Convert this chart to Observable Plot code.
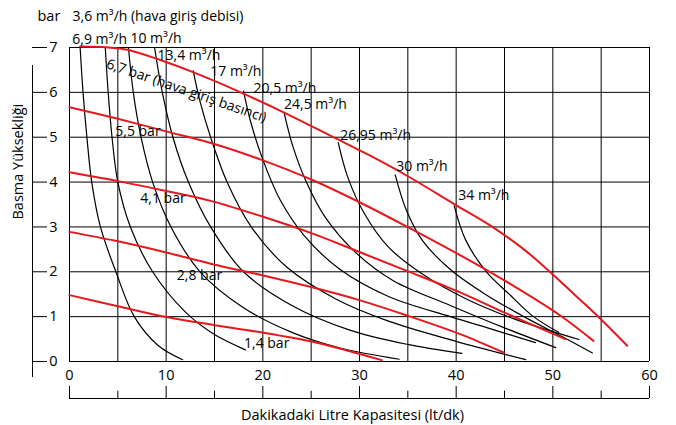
<!DOCTYPE html>
<html><head><meta charset="utf-8">
<script src="https://cdn.jsdelivr.net/npm/d3@7"></script>
<script src="https://cdn.jsdelivr.net/npm/@observablehq/plot@0.6"></script>
<style>
html,body{margin:0;padding:0;background:#fff;}
#chart svg{display:block;}
</style>
</head><body><div id="chart"></div>
<script>
// ---- axes ----
const xTicks = [0, 10, 20, 30, 40, 50, 60];
const xMinorTicks = [5, 15, 25, 35, 45, 55];
const xGrid = [0, 5, 10, 15, 20, 25, 30, 35, 40, 45, 50, 55, 60];
const yTicks = [0, 1, 2, 3, 4, 5, 6, 7];
const xTitle = "Dakikadaki Litre Kapasitesi (lt/dk)";
const yTitle = "Basma Yüksekliği";
const yUnit = "bar";

// ---- air inlet pressure curves (red) ----
const pressureNames = ["6,7 bar (hava giriş basıncı)", "5,5 bar", "4,1 bar", "2,8 bar", "1,4 bar"];
const p67 = [[1.1,7.02],[4,7.0],[6,6.95],[9.4,6.72],[12.9,6.44],[17.3,6.04],[22.2,5.55],[27.3,5.0],[31,4.6],[34.6,4.18],[39.8,3.51],[43.9,2.98],[47,2.5],[49.8,1.98],[52.2,1.5],[54.6,1.02],[57.7,0.35]];
const p55 = [[0,5.67],[5,5.41],[10,5.13],[14.8,4.86],[19.8,4.5],[25.3,4.03],[30,3.55],[34.6,3.04],[40.4,2.37],[45.5,1.74],[50.8,1.02],[54.2,0.46]];
const p41 = [[0,4.22],[5.3,4.01],[10,3.8],[14.8,3.57],[20.1,3.22],[25.3,2.84],[30,2.44],[34.9,2.02],[40.4,1.54],[45.3,1.06],[51.3,0.5]];
const p28 = [[0,2.89],[4.76,2.69],[10,2.43],[14.8,2.17],[19.8,1.93],[25,1.66],[29.8,1.38],[35,1.02],[40.4,0.61],[44.9,0.2]];
const p14 = [[0,1.48],[5,1.23],[10,0.99],[15,0.81],[19.8,0.65],[25.6,0.42],[29,0.23],[32.3,0.03]];

// ---- air consumption curves (black) ----
const airNames = ["3,6 m³/h (hava giriş debisi)", "6,9 m³/h", "10 m³/h", "13,4 m³/h", "17 m³/h", "20,5 m³/h", "24,5 m³/h", "26,95 m³/h", "30 m³/h", "34 m³/h"];
const a36 = [[1.1,7],[1.4,6],[1.8,5],[2.3,4],[3.2,3],[4.8,2],[6.7,1],[9.2,0.35],[11.7,0.04]];
const a69 = [[3.7,7],[4.0,6],[4.4,5],[5.0,4],[6.3,3],[8.6,2],[12,1.1],[15,0.6],[18.2,0.26]];
const a10 = [[6.1,7],[6.6,6],[7.4,5],[8.6,4],[10.5,3],[13.5,2],[18,1.2],[23,0.65],[28,0.3],[34.1,0.05]];
const a134 = [[8.8,7],[9.6,6],[10.7,5],[12.3,4],[14.6,3],[18,2],[23,1.25],[29,0.7],[35,0.38],[40.6,0.18]];
const a17 = [[12.8,6.48],[13.5,5.8],[14.6,5],[16.3,4],[18.8,3],[22.5,2.1],[27.5,1.4],[33,0.9],[40,0.45],[47.2,0.04]];
const a205 = [[18,6.03],[18.8,5.3],[20,4.5],[21.8,3.6],[24.3,2.8],[28,2.05],[33,1.45],[39.4,1.0],[44,0.7],[48.2,0.42]];
const a245 = [[22.2,5.55],[23.1,4.8],[24.5,4],[26.5,3.2],[29.5,2.45],[33.5,1.8],[39.4,1.25],[45,0.75],[50.3,0.31]];
const a2695 = [[27.8,4.88],[28.8,4.1],[30.5,3.3],[33,2.55],[36.5,1.95],[41,1.4],[46,0.95],[52.7,0.49]];
const a30 = [[33.7,4.16],[34.8,3.4],[36.5,2.7],[39.4,2.05],[43,1.5],[47,1.0],[51,0.55],[54.1,0.19]];
const a34 = [[39.8,3.47],[41,2.7],[43.2,1.98],[45.5,1.5],[48,1.0],[50.6,0.65]];

// ---- build tables ----
const pressureSeries = [p67, p55, p41, p28, p14];
const airSeries = [a36, a69, a10, a134, a17, a205, a245, a2695, a30, a34];
const redRows = pressureSeries.flatMap((s, i) => s.map(([x, y]) => ({x, y, name: pressureNames[i]})));
const blackRows = airSeries.flatMap((s, i) => s.map(([x, y]) => ({x, y, name: airNames[i]})));

// label placement (offsets in px from the curve)
function yAt(series, x) {
  for (let i = 1; i < series.length; i++) {
    const [x0, y0] = series[i - 1], [x1, y1] = series[i];
    if (x >= x0 && x <= x1) return y0 + (y1 - y0) * (x - x0) / (x1 - x0);
  }
  return series[series.length - 1][1];
}
const pLabelAt = [12.1, 7.08, 9.67, 13.45, 20.4];
const pLabelDy = [21, 7.5, 8.3, 14.5, 10.4];
const pLabelRot = [19, 0, 0, 0, 0];
const pressureLabelRows = pressureNames.map((t, i) => ({
  text: t, x: pLabelAt[i], y: yAt(pressureSeries[i], pLabelAt[i]), dy: pLabelDy[i], rotate: pLabelRot[i]
}));
const aDx = [-7.6, -33, 2, 3, 17, 10, 0, 2, 1, 4];
const aDy = [-31, -7.5, -9, 8, 1, -2, -8, -7, -8, -10];
const airLabelRows = airNames.map((t, i) => ({text: t, x: airSeries[i][0][0], y: airSeries[i][0][1], dx: aDx[i], dy: aDy[i]}));

const font = "Open Sans";
const fs = 14.5;
const red = "#e5181e";

const marks = [
  Plot.ruleX(xGrid, {stroke: "#000", strokeWidth: 1}),
  Plot.ruleY(yTicks, {stroke: "#000", strokeWidth: 1}),
  Plot.line(blackRows, {x: "x", y: "y", z: "name", stroke: "#000", strokeWidth: 1.2, curve: "catmull-rom"}),
  Plot.line(redRows, {x: "x", y: "y", z: "name", stroke: red, strokeWidth: 2, curve: "catmull-rom"}),
  // y axis: separate dashes, vertical line, labels
  Plot.axisY({ticks: yTicks, tickSize: 15, dx: -22, tickFormat: () => "", label: null, stroke: "#000"}),
  Plot.axisY({ticks: yTicks, tickSize: 0, tickPadding: 12, tickFormat: d => String(d), label: null, fontSize: fs, fill: "#000"}),
  Plot.ruleX([0], {dx: -37, insetTop: 18, insetBottom: -16, stroke: "#000"}),
  // x axis: labels, then a detached baseline with up ticks
  Plot.axisX({ticks: xTicks, tickSize: 0, tickPadding: 8, tickFormat: d => String(d), label: null, fontSize: fs, fill: "#000"}),
  Plot.ruleY([0], {dy: 37, stroke: "#000"}),
  Plot.tickX(xTicks, {insetTop: 339, insetBottom: -37, stroke: "#000"}),
  Plot.tickX(xMinorTicks, {insetTop: 343.7, insetBottom: -37, stroke: "#000"}),
  // titles
  Plot.text([xTitle], {frameAnchor: "bottom", lineAnchor: "middle", dy: 54, dx: -7, fontSize: fs, fill: "#000"}),
  Plot.text([yTitle], {frameAnchor: "left", lineAnchor: "middle", rotate: -90, dx: -51, dy: 15, fontSize: fs, fill: "#000"}),
  Plot.text([yUnit], {frameAnchor: "top-left", textAnchor: "start", lineAnchor: "middle", dx: -32, dy: -31, fontSize: fs, fill: "#000"}),
  // curve labels
  ...airLabelRows.map(d => Plot.text([d], {x: "x", y: "y", text: "text", textAnchor: "start", dx: d.dx, dy: d.dy, fontSize: 14, fill: "#000"})),
  ...pressureLabelRows.map(d => Plot.text([d], {x: "x", y: "y", text: "text", textAnchor: "middle", dy: d.dy, rotate: d.rotate, fontSize: 14, fill: "#000"}))
];

const chart = Plot.plot({
  width: 676,
  height: 425,
  marginLeft: 69,
  marginRight: 27,
  marginTop: 47,
  marginBottom: 64,
  x: {domain: [0, 60], axis: null},
  y: {domain: [0, 7], axis: null},
  style: {fontFamily: font, fontSize: "14px", background: "#fff", color: "#000", overflow: "visible"},
  marks
});
document.getElementById("chart").appendChild(chart);
</script>
</body></html>
